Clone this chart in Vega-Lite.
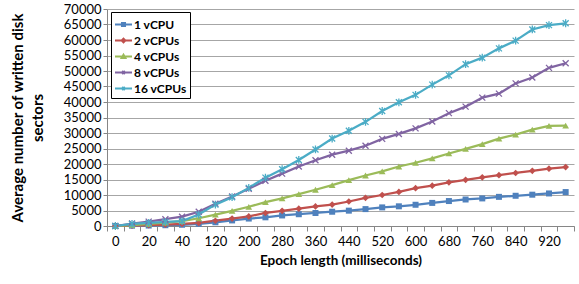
{
  "$schema": "https://vega.github.io/schema/vega-lite/v6.json",
  "autosize": {"type": "none"},
  "padding": {"left": 107, "top": 9, "right": 5, "bottom": 58},
  "width": 467,
  "height": 217,
  "background": "white",
  "config": {
    "view": {"stroke": null},
    "font": "Lato",
    "axis": {"labelFont": "Lato", "titleFont": "Lato", "labelColor": "#000000", "titleColor": "#000000"}
  },
  "datasets": {
    "rows": [
      {"epoch": 0, "series": "1 vCPU", "sectors": 0},
      {"epoch": 10, "series": "1 vCPU", "sectors": 100},
      {"epoch": 20, "series": "1 vCPU", "sectors": 150},
      {"epoch": 30, "series": "1 vCPU", "sectors": 250},
      {"epoch": 40, "series": "1 vCPU", "sectors": 400},
      {"epoch": 80, "series": "1 vCPU", "sectors": 700},
      {"epoch": 120, "series": "1 vCPU", "sectors": 1200},
      {"epoch": 160, "series": "1 vCPU", "sectors": 1800},
      {"epoch": 200, "series": "1 vCPU", "sectors": 2400},
      {"epoch": 240, "series": "1 vCPU", "sectors": 2800},
      {"epoch": 280, "series": "1 vCPU", "sectors": 3400},
      {"epoch": 320, "series": "1 vCPU", "sectors": 3800},
      {"epoch": 360, "series": "1 vCPU", "sectors": 4200},
      {"epoch": 400, "series": "1 vCPU", "sectors": 4600},
      {"epoch": 440, "series": "1 vCPU", "sectors": 4950},
      {"epoch": 480, "series": "1 vCPU", "sectors": 5450},
      {"epoch": 520, "series": "1 vCPU", "sectors": 6000},
      {"epoch": 560, "series": "1 vCPU", "sectors": 6350},
      {"epoch": 600, "series": "1 vCPU", "sectors": 6850},
      {"epoch": 640, "series": "1 vCPU", "sectors": 7450},
      {"epoch": 680, "series": "1 vCPU", "sectors": 8050},
      {"epoch": 720, "series": "1 vCPU", "sectors": 8550},
      {"epoch": 760, "series": "1 vCPU", "sectors": 8900},
      {"epoch": 800, "series": "1 vCPU", "sectors": 9400},
      {"epoch": 840, "series": "1 vCPU", "sectors": 9750},
      {"epoch": 880, "series": "1 vCPU", "sectors": 10100},
      {"epoch": 920, "series": "1 vCPU", "sectors": 10500},
      {"epoch": 960, "series": "1 vCPU", "sectors": 10950},
      {"epoch": 0, "series": "2 vCPUs", "sectors": 0},
      {"epoch": 10, "series": "2 vCPUs", "sectors": 150},
      {"epoch": 20, "series": "2 vCPUs", "sectors": 300},
      {"epoch": 30, "series": "2 vCPUs", "sectors": 450},
      {"epoch": 40, "series": "2 vCPUs", "sectors": 650},
      {"epoch": 80, "series": "2 vCPUs", "sectors": 1000},
      {"epoch": 120, "series": "2 vCPUs", "sectors": 1700},
      {"epoch": 160, "series": "2 vCPUs", "sectors": 2400},
      {"epoch": 200, "series": "2 vCPUs", "sectors": 3100},
      {"epoch": 240, "series": "2 vCPUs", "sectors": 4200},
      {"epoch": 280, "series": "2 vCPUs", "sectors": 4900},
      {"epoch": 320, "series": "2 vCPUs", "sectors": 5600},
      {"epoch": 360, "series": "2 vCPUs", "sectors": 6300},
      {"epoch": 400, "series": "2 vCPUs", "sectors": 6900},
      {"epoch": 440, "series": "2 vCPUs", "sectors": 7900},
      {"epoch": 480, "series": "2 vCPUs", "sectors": 9100},
      {"epoch": 520, "series": "2 vCPUs", "sectors": 10000},
      {"epoch": 560, "series": "2 vCPUs", "sectors": 11000},
      {"epoch": 600, "series": "2 vCPUs", "sectors": 12200},
      {"epoch": 640, "series": "2 vCPUs", "sectors": 13000},
      {"epoch": 680, "series": "2 vCPUs", "sectors": 14100},
      {"epoch": 720, "series": "2 vCPUs", "sectors": 14900},
      {"epoch": 760, "series": "2 vCPUs", "sectors": 15700},
      {"epoch": 800, "series": "2 vCPUs", "sectors": 16400},
      {"epoch": 840, "series": "2 vCPUs", "sectors": 17100},
      {"epoch": 880, "series": "2 vCPUs", "sectors": 17800},
      {"epoch": 920, "series": "2 vCPUs", "sectors": 18500},
      {"epoch": 960, "series": "2 vCPUs", "sectors": 19000},
      {"epoch": 0, "series": "4 vCPUs", "sectors": 0},
      {"epoch": 10, "series": "4 vCPUs", "sectors": 300},
      {"epoch": 20, "series": "4 vCPUs", "sectors": 700},
      {"epoch": 30, "series": "4 vCPUs", "sectors": 1100},
      {"epoch": 40, "series": "4 vCPUs", "sectors": 1600},
      {"epoch": 80, "series": "4 vCPUs", "sectors": 2500},
      {"epoch": 120, "series": "4 vCPUs", "sectors": 3700},
      {"epoch": 160, "series": "4 vCPUs", "sectors": 4900},
      {"epoch": 200, "series": "4 vCPUs", "sectors": 6200},
      {"epoch": 240, "series": "4 vCPUs", "sectors": 7700},
      {"epoch": 280, "series": "4 vCPUs", "sectors": 8900},
      {"epoch": 320, "series": "4 vCPUs", "sectors": 10300},
      {"epoch": 360, "series": "4 vCPUs", "sectors": 11700},
      {"epoch": 400, "series": "4 vCPUs", "sectors": 13200},
      {"epoch": 440, "series": "4 vCPUs", "sectors": 14800},
      {"epoch": 480, "series": "4 vCPUs", "sectors": 16300},
      {"epoch": 520, "series": "4 vCPUs", "sectors": 17600},
      {"epoch": 560, "series": "4 vCPUs", "sectors": 19200},
      {"epoch": 600, "series": "4 vCPUs", "sectors": 20400},
      {"epoch": 640, "series": "4 vCPUs", "sectors": 21800},
      {"epoch": 680, "series": "4 vCPUs", "sectors": 23400},
      {"epoch": 720, "series": "4 vCPUs", "sectors": 24900},
      {"epoch": 760, "series": "4 vCPUs", "sectors": 26400},
      {"epoch": 800, "series": "4 vCPUs", "sectors": 28200},
      {"epoch": 840, "series": "4 vCPUs", "sectors": 29500},
      {"epoch": 880, "series": "4 vCPUs", "sectors": 31100},
      {"epoch": 920, "series": "4 vCPUs", "sectors": 32300},
      {"epoch": 960, "series": "4 vCPUs", "sectors": 32400},
      {"epoch": 0, "series": "8 vCPUs", "sectors": 0},
      {"epoch": 10, "series": "8 vCPUs", "sectors": 800},
      {"epoch": 20, "series": "8 vCPUs", "sectors": 1400},
      {"epoch": 30, "series": "8 vCPUs", "sectors": 2200},
      {"epoch": 40, "series": "8 vCPUs", "sectors": 3000},
      {"epoch": 80, "series": "8 vCPUs", "sectors": 4600},
      {"epoch": 120, "series": "8 vCPUs", "sectors": 7200},
      {"epoch": 160, "series": "8 vCPUs", "sectors": 9500},
      {"epoch": 200, "series": "8 vCPUs", "sectors": 12000},
      {"epoch": 240, "series": "8 vCPUs", "sectors": 14600},
      {"epoch": 280, "series": "8 vCPUs", "sectors": 16900},
      {"epoch": 320, "series": "8 vCPUs", "sectors": 19200},
      {"epoch": 360, "series": "8 vCPUs", "sectors": 21200},
      {"epoch": 400, "series": "8 vCPUs", "sectors": 23000},
      {"epoch": 440, "series": "8 vCPUs", "sectors": 24300},
      {"epoch": 480, "series": "8 vCPUs", "sectors": 25900},
      {"epoch": 520, "series": "8 vCPUs", "sectors": 28100},
      {"epoch": 560, "series": "8 vCPUs", "sectors": 29700},
      {"epoch": 600, "series": "8 vCPUs", "sectors": 31500},
      {"epoch": 640, "series": "8 vCPUs", "sectors": 33700},
      {"epoch": 680, "series": "8 vCPUs", "sectors": 36400},
      {"epoch": 720, "series": "8 vCPUs", "sectors": 38500},
      {"epoch": 760, "series": "8 vCPUs", "sectors": 41400},
      {"epoch": 800, "series": "8 vCPUs", "sectors": 42700},
      {"epoch": 840, "series": "8 vCPUs", "sectors": 46000},
      {"epoch": 880, "series": "8 vCPUs", "sectors": 47900},
      {"epoch": 920, "series": "8 vCPUs", "sectors": 51000},
      {"epoch": 960, "series": "8 vCPUs", "sectors": 52500},
      {"epoch": 0, "series": "16 vCPUs", "sectors": 0},
      {"epoch": 10, "series": "16 vCPUs", "sectors": 650},
      {"epoch": 20, "series": "16 vCPUs", "sectors": 1000},
      {"epoch": 30, "series": "16 vCPUs", "sectors": 1300},
      {"epoch": 40, "series": "16 vCPUs", "sectors": 1600},
      {"epoch": 80, "series": "16 vCPUs", "sectors": 3700},
      {"epoch": 120, "series": "16 vCPUs", "sectors": 6900},
      {"epoch": 160, "series": "16 vCPUs", "sectors": 9300},
      {"epoch": 200, "series": "16 vCPUs", "sectors": 12300},
      {"epoch": 240, "series": "16 vCPUs", "sectors": 15600},
      {"epoch": 280, "series": "16 vCPUs", "sectors": 18300},
      {"epoch": 320, "series": "16 vCPUs", "sectors": 21300},
      {"epoch": 360, "series": "16 vCPUs", "sectors": 24700},
      {"epoch": 400, "series": "16 vCPUs", "sectors": 28200},
      {"epoch": 440, "series": "16 vCPUs", "sectors": 30700},
      {"epoch": 480, "series": "16 vCPUs", "sectors": 33600},
      {"epoch": 520, "series": "16 vCPUs", "sectors": 37100},
      {"epoch": 560, "series": "16 vCPUs", "sectors": 39900},
      {"epoch": 600, "series": "16 vCPUs", "sectors": 42300},
      {"epoch": 640, "series": "16 vCPUs", "sectors": 45600},
      {"epoch": 680, "series": "16 vCPUs", "sectors": 48600},
      {"epoch": 720, "series": "16 vCPUs", "sectors": 52200},
      {"epoch": 760, "series": "16 vCPUs", "sectors": 54300},
      {"epoch": 800, "series": "16 vCPUs", "sectors": 57300},
      {"epoch": 840, "series": "16 vCPUs", "sectors": 59800},
      {"epoch": 880, "series": "16 vCPUs", "sectors": 63400},
      {"epoch": 920, "series": "16 vCPUs", "sectors": 64800},
      {"epoch": 960, "series": "16 vCPUs", "sectors": 65400}
    ]
  },
  "data": {"name": "rows"},
  "encoding": {
    "x": {
      "field": "epoch",
      "type": "ordinal",
      "scale": {"type": "band", "paddingInner": 0, "paddingOuter": 0},
      "axis": {
        "title": "Epoch length (milliseconds)",
        "titleFontSize": 13.5,
        "titleFontWeight": "bold",
        "titlePadding": 5,
        "labelFontSize": 13,
        "labelAngle": 0,
        "labelOverlap": false,
        "labelPadding": 4,
        "labelExpr": "(datum.value <= 40 ? (datum.value % 20 == 0) : ((datum.value - 40) % 80 == 0)) ? datum.label : ''",
        "tickBand": "extent",
        "tickColor": "#868686",
        "tickSize": 5,
        "domainColor": "#868686",
        "grid": false
      }
    },
    "y": {
      "field": "sectors",
      "type": "quantitative",
      "scale": {"domain": [0, 70000], "nice": false},
      "axis": {
        "title": ["Average number of written disk", "sectors"],
        "titleFontSize": 15,
        "titleFontWeight": "bold",
        "titleLineHeight": 20,
        "titlePadding": 18,
        "labelFontSize": 13,
        "labelPadding": 2,
        "values": [0, 5000, 10000, 15000, 20000, 25000, 30000, 35000, 40000, 45000, 50000, 55000, 60000, 65000, 70000],
        "format": "d",
        "grid": true,
        "gridColor": "#A6A6A6",
        "tickColor": "#868686",
        "tickSize": 4,
        "domainColor": "#868686"
      }
    },
    "color": {
      "field": "series",
      "type": "nominal",
      "sort": ["1 vCPU", "2 vCPUs", "4 vCPUs", "8 vCPUs", "16 vCPUs"],
      "scale": {"domain": ["1 vCPU", "2 vCPUs", "4 vCPUs", "8 vCPUs", "16 vCPUs"], "range": ["#4F81BD", "#C0504D", "#9BBB59", "#8064A2", "#4BACC6"]},
      "legend": {
        "title": null,
        "orient": "none",
        "legendX": 4,
        "legendY": 3,
        "fillColor": "white",
        "strokeColor": "black",
        "padding": 3,
        "labelFont": "Lato",
        "labelFontSize": 12,
        "labelFontWeight": "bold",
        "labelColor": "#000000",
        "labelOffset": 1,
        "rowPadding": 0,
        "symbolSize": 289,
        "symbolStrokeWidth": 2,
        "symbolType": "M-1,0H1",
        "encode": {
          "symbols": {
            "update": {
              "shape": {"signal": "datum.value === '1 vCPU' ? 'M-1,0H1M-0.18,-0.18H0.18V0.18H-0.18Z' : datum.value === '2 vCPUs' ? 'M-1,0H1M0,-0.22L0.22,0L0,0.22L-0.22,0Z' : datum.value === '4 vCPUs' ? 'M-1,0H1M0,-0.2L0.22,0.17L-0.22,0.17Z' : datum.value === '8 vCPUs' ? 'M-1,0H1M-0.17,-0.17L0.17,0.17M-0.17,0.17L0.17,-0.17' : 'M-1,0H1M-0.17,-0.17L0.17,0.17M-0.17,0.17L0.17,-0.17M0,-0.22V0.22'"},
              "fill": {"signal": "scale('color', datum.value)"},
              "stroke": {"signal": "scale('color', datum.value)"},
              "strokeWidth": {"value": 2},
              "opacity": {"value": 1}
            }
          }
        }
      }
    }
  },
  "layer": [
    {
      "mark": {"type": "line", "strokeWidth": 2.25},
      "encoding": {}
    },
    {
      "transform": [{"filter": "datum.series === '1 vCPU'"}],
      "mark": {"type": "point", "shape": "square", "filled": true, "size": 36, "opacity": 1, "color": "#4F81BD"},
      "encoding": {"color": {"value": "#4F81BD"}}
    },
    {
      "transform": [{"filter": "datum.series === '2 vCPUs'"}],
      "mark": {"type": "point", "shape": "diamond", "filled": true, "size": 45, "opacity": 1},
      "encoding": {"color": {"value": "#C0504D"}}
    },
    {
      "transform": [{"filter": "datum.series === '4 vCPUs'"}],
      "mark": {"type": "point", "shape": "triangle-up", "filled": true, "size": 45, "opacity": 1},
      "encoding": {"color": {"value": "#9BBB59"}}
    },
    {
      "transform": [{"filter": "datum.series === '8 vCPUs'"}],
      "mark": {"type": "point", "shape": "M-1,-1L1,1M-1,1L1,-1", "filled": false, "size": 36, "opacity": 1, "strokeWidth": 1.3},
      "encoding": {"color": {"value": "#8064A2"}}
    },
    {
      "transform": [{"filter": "datum.series === '16 vCPUs'"}],
      "mark": {"type": "point", "shape": "M-1,-1L1,1M-1,1L1,-1M0,-1.3V1.3", "filled": false, "size": 36, "opacity": 1, "strokeWidth": 1.3},
      "encoding": {"color": {"value": "#4BACC6"}}
    }
  ]
}
